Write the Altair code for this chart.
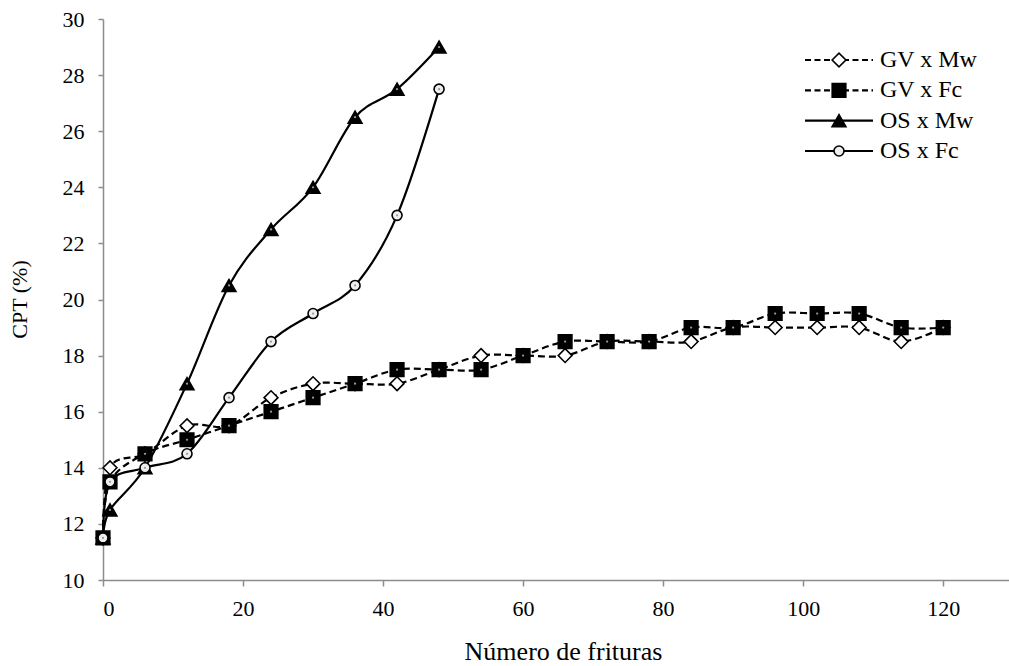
import altair as alt
import pandas as pd

# ---- data ----
frituras = [0, 1, 6, 12, 18, 24, 30, 36, 42, 48, 54, 60, 66, 72, 78, 84, 90, 96, 102, 108, 114, 120]
gv_mw = [11.5, 14.0, 14.5, 15.5, 15.5, 16.5, 17.0, 17.0, 17.0, 17.5, 18.0, 18.0, 18.0, 18.5, 18.5, 18.5, 19.0, 19.0, 19.0, 19.0, 18.5, 19.0]
gv_fc = [11.5, 13.5, 14.5, 15.0, 15.5, 16.0, 16.5, 17.0, 17.5, 17.5, 17.5, 18.0, 18.5, 18.5, 18.5, 19.0, 19.0, 19.5, 19.5, 19.5, 19.0, 19.0]
frituras_os = [0, 1, 6, 12, 18, 24, 30, 36, 42, 48]
os_mw = [11.5, 12.5, 14.0, 17.0, 20.5, 22.5, 24.0, 26.5, 27.5, 29.0]
os_fc = [11.5, 13.5, 14.0, 14.5, 16.5, 18.5, 19.5, 20.5, 23.0, 27.5]
series_names = ["GV x Mw", "GV x Fc", "OS x Mw", "OS x Fc"]
x_ticks = [0, 20, 40, 60, 80, 100, 120]
y_ticks = [10, 12, 14, 16, 18, 20, 22, 24, 26, 28, 30]

rows = []
for name, xs, ys in [(series_names[0], frituras, gv_mw),
                     (series_names[1], frituras, gv_fc),
                     (series_names[2], frituras_os, os_mw),
                     (series_names[3], frituras_os, os_fc)]:
    for xv, yv in zip(xs, ys):
        rows.append({"serie": name, "x": xv, "y": yv})
df = pd.DataFrame(rows)
leg_df = pd.DataFrame({"serie": series_names})

FONT = "Liberation Serif"
AX = "#8c8c8c"

xscale = alt.Scale(domain=[0, 129.4], nice=False, zero=False)
yscale = alt.Scale(domain=[10, 30], nice=False, zero=False)

X = alt.X("x:Q", scale=xscale,
          axis=alt.Axis(values=x_ticks, title="Número de frituras", grid=False,
                        domainColor=AX, tickColor=AX, tickSize=6, domainWidth=1.5, tickWidth=1.5,
                        labelFont=FONT, labelFontSize=22, labelColor="black", labelPadding=12,
                        titleFont=FONT, titleFontSize=26, titleFontWeight="normal", titleColor="black",
                        titleX=460, titleY=79, titleAlign="center", titleBaseline="alphabetic"))
Y = alt.Y("y:Q", scale=yscale,
          axis=alt.Axis(values=y_ticks, title="CPT (%)", grid=False,
                        domainColor=AX, tickColor=AX, tickSize=5, domainWidth=1.5, tickWidth=1.5,
                        labelFont=FONT, labelFontSize=22, labelColor="black", labelPadding=14,
                        titleFont=FONT, titleFontSize=22, titleFontWeight="normal", titleColor="black",
                        titleX=-84, titleY=280, titleBaseline="middle", titleAlign="center", titleAngle=270))

DASH = [7, 4]
styles = {
    "GV x Mw": dict(dash=True, shape="diamond", fill="white", size=190),
    "GV x Fc": dict(dash=True, shape="square", fill="black", size=185),
    "OS x Mw": dict(dash=False, shape="triangle-up", fill="black", size=190),
    "OS x Fc": dict(dash=False, shape="circle", fill="#eeeeee", size=100),
}

data_layers = []
for name in series_names:
    st = styles[name]
    base = alt.Chart(df).transform_filter(alt.datum.serie == name)
    line_kw = dict(interpolate="cardinal", color="black", strokeWidth=2.2)
    if st["dash"]:
        line_kw["strokeDash"] = DASH
    data_layers.append(base.mark_line(**line_kw).encode(x=X, y=Y))
    data_layers.append(base.mark_point(shape=st["shape"], filled=True, fill=st["fill"], stroke="black",
                                       strokeWidth=1.6, size=st["size"], opacity=1).encode(x=X, y=Y))
    if st["fill"] != "white":
        data_layers.append(base.mark_point(shape="circle", filled=True, fill="#9a9a9a", size=5,
                                           opacity=1).encode(x=X, y=Y))

LY = alt.Y("serie:N", sort=series_names,
           scale=alt.Scale(type="point", domain=series_names, range=[41, 132], padding=0),
           axis=None)

legend_layers = []
for name in series_names:
    st = styles[name]
    lb = alt.Chart(leg_df).transform_filter(alt.datum.serie == name)
    rule_kw = dict(color="black", strokeWidth=2.2)
    if st["dash"]:
        rule_kw["strokeDash"] = [6, 3.5]
    legend_layers.append(lb.mark_rule(**rule_kw).encode(x=alt.value(702), x2=alt.value(770), y=LY))
    legend_layers.append(lb.mark_point(shape=st["shape"], filled=True, fill=st["fill"], stroke="black",
                                       strokeWidth=1.6, size=st["size"], opacity=1)
                         .encode(x=alt.value(736), y=LY))
legend_layers.append(alt.Chart(leg_df).mark_text(align="left", baseline="middle", font=FONT,
                                                 fontSize=24, color="black")
                     .encode(x=alt.value(777), y=LY, text="serie:N"))

chart = (
    alt.layer(alt.layer(*data_layers), alt.layer(*legend_layers))
    .resolve_scale(y="independent")
    .properties(width=906, height=561,
                autosize=alt.AutoSizeParams(type="none"),
                padding={"left": 103, "top": 19, "right": 0, "bottom": 86},
                background="white")
    .configure_view(stroke=None)
)

chart.save("out.html", embed_options={"renderer": "svg", "actions": False})
